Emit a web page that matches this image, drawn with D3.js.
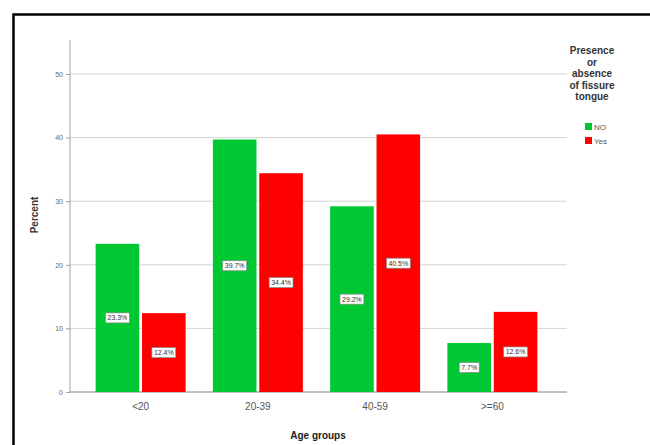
<!DOCTYPE html>
<html><head><meta charset="utf-8">
<script src="https://cdn.jsdelivr.net/npm/d3@7"></script>
<style>body{margin:0;background:#fff}svg{display:block}</style>
</head><body>
<svg id="c" width="650" height="445"></svg>
<script>
const categories = ["<20", "20-39", "40-59", ">=60"];
const seriesNames = ["NO", "Yes"];
const noValues = [23.3, 39.7, 29.2, 7.7];
const yesValues = [12.4, 34.4, 40.5, 12.6];
const yTicks = [0, 10, 20, 30, 40, 50];
const colors = ["#00c832", "#ff0000"];

const svg = d3.select("#c");
// frame
svg.append("rect").attr("x", 13.5).attr("y", 14.5).attr("width", 700).attr("height", 500)
  .attr("fill", "#fff").attr("stroke", "#000").attr("stroke-width", 2.5);

const x0 = 70, xEnd = 567, yZero = 392;
const y = d3.scaleLinear().domain([0, 50]).range([yZero, 74]);
const x = d3.scaleBand().domain(categories).range([82, 551]).padding(0);
const xs = d3.scaleBand().domain(seriesNames).range([0, 90]).paddingInner(0.06);
const offset = (x.bandwidth() - 90) / 2;

// gridlines
svg.append("g").selectAll("line").data(yTicks.filter(d => d > 0)).join("line")
  .attr("x1", x0).attr("x2", xEnd).attr("y1", d => y(d)).attr("y2", d => y(d))
  .attr("stroke", "#d4d4d4").attr("stroke-width", 1);

// y axis
const yAxis = svg.append("g").attr("transform", `translate(${x0},0)`)
  .call(d3.axisLeft(y).tickValues(yTicks).tickSize(4).tickPadding(3));
yAxis.select(".domain").remove();
yAxis.append("line").attr("x1", 0).attr("x2", 0).attr("y1", 40).attr("y2", yZero).attr("stroke", "#a0a0a0");
yAxis.selectAll(".tick line").attr("stroke", "#a0a0a0");
yAxis.selectAll(".tick text").attr("fill", "#666").style("font", "7px Arial, 'Liberation Sans'");

// x axis
const xAxis = svg.append("g").attr("transform", `translate(0,${yZero})`)
  .call(d3.axisBottom(x).tickSize(0).tickPadding(11));
xAxis.select(".domain").remove();
xAxis.append("line").attr("x1", x0).attr("x2", xEnd).attr("y1", 0).attr("y2", 0).attr("stroke", "#808080");
xAxis.selectAll(".tick text").attr("fill", "#555").style("font", "10px Arial, 'Liberation Sans'");

// bars
const rows = categories.map((c, i) => ({c, vals: [noValues[i], yesValues[i]]}));
const g = svg.append("g").selectAll("g").data(rows).join("g")
  .attr("transform", d => `translate(${x(d.c) + offset},0)`);
const bars = g.selectAll("g").data(d => d.vals.map((v, j) => ({v, s: seriesNames[j], j}))).join("g");
bars.append("rect")
  .attr("x", d => xs(d.s)).attr("width", xs.bandwidth())
  .attr("y", d => y(d.v)).attr("height", d => yZero - y(d.v))
  .attr("fill", d => colors[d.j]);
// value labels
bars.each(function(d) {
  const sel = d3.select(this);
  const cx = xs(d.s) + xs.bandwidth() / 2;
  const cy = (y(d.v) + yZero) / 2;
  const txt = d.v.toFixed(1) + "%";
  const t = sel.append("text").attr("x", cx).attr("y", cy + 2.5).attr("text-anchor", "middle")
    .style("font", "7px Arial, 'Liberation Sans'").attr("fill", "#333").text(txt);
  const w = t.node().getComputedTextLength();
  sel.insert("rect", "text").attr("x", cx - w / 2 - 2).attr("y", cy - 5).attr("width", w + 4).attr("height", 10)
    .attr("fill", "#fff").attr("stroke", "#888").attr("stroke-width", 0.7);
});

// axis titles
svg.append("text").attr("transform", "translate(38,215) rotate(-90)").attr("text-anchor", "middle")
  .style("font", "bold 10px Arial, 'Liberation Sans'").attr("fill", "#333").text("Percent");
svg.append("text").attr("x", 318).attr("y", 439).attr("text-anchor", "middle")
  .style("font", "bold 10px Arial, 'Liberation Sans'").attr("fill", "#222").text("Age groups");

// legend
const titleLines = ["Presence", "or", "absence", "of fissure", "tongue"];
svg.append("g").selectAll("text").data(titleLines).join("text")
  .attr("x", 592).attr("y", (d, i) => 54 + i * 11.5).attr("text-anchor", "middle")
  .style("font", "bold 10px Arial, 'Liberation Sans'").attr("fill", "#333").text(d => d);
const lg = svg.append("g").selectAll("g").data(seriesNames).join("g")
  .attr("transform", (d, i) => `translate(585,${123 + i * 14})`);
lg.append("rect").attr("width", 7).attr("height", 7).attr("fill", (d, i) => colors[i]);
lg.append("text").attr("x", 9).attr("y", 7).style("font", "8px Arial, 'Liberation Sans'").attr("fill", "#555").text(d => d);
</script>
</body></html>
